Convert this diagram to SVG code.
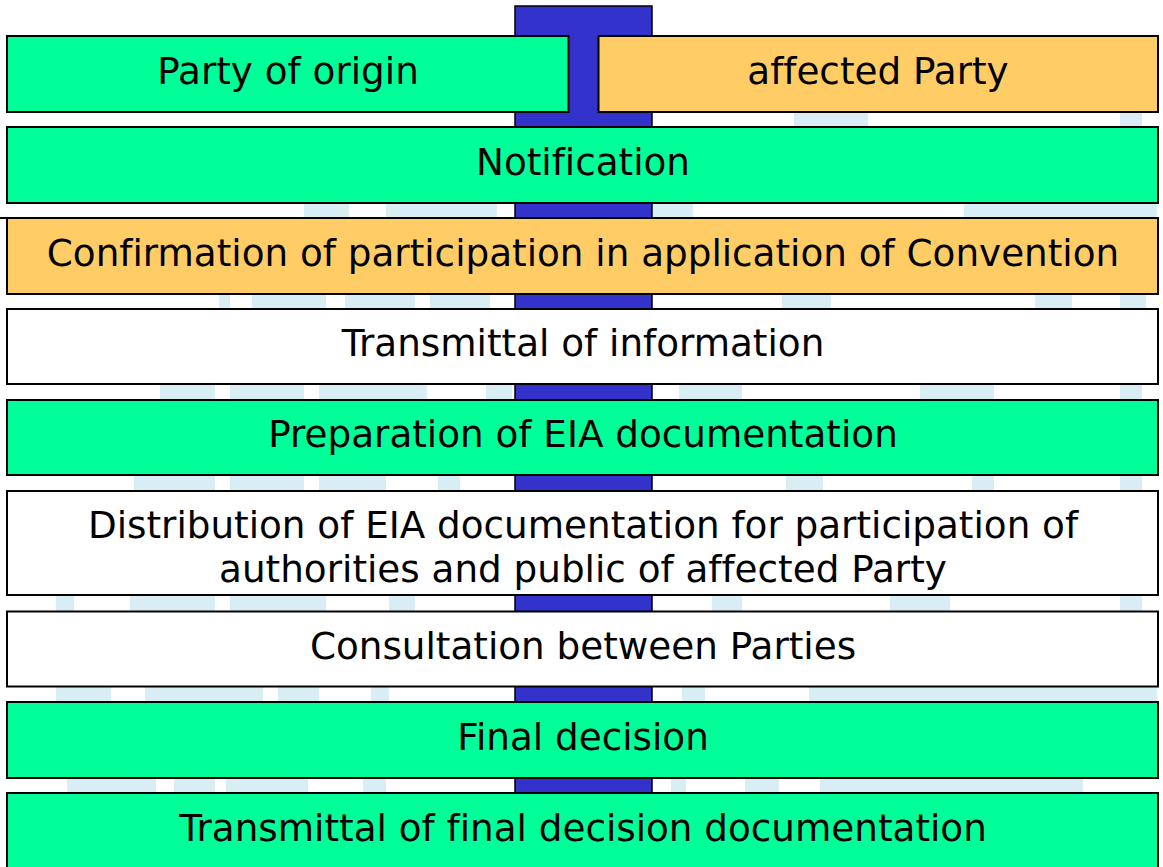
<svg xmlns="http://www.w3.org/2000/svg" width="1163" height="867" viewBox="0 0 1163 867">
<style>
.box{stroke:#000;stroke-width:2}
.g{fill:#00ff99}
.o{fill:#ffcc66}
.w{fill:#ffffff}
.wm{fill:#d9eef4}
text{font-family:"DejaVu Sans","Verdana",sans-serif;font-size:37.3px;fill:#000;text-anchor:middle;font-variant-ligatures:none;font-feature-settings:"liga" 0}
</style>
<rect x="0" y="0" width="1163" height="867" fill="#ffffff"/>
<g id="watermark">
<rect class="wm" x="794" y="112" width="74" height="15"/><rect class="wm" x="1120" y="112" width="22" height="15"/>
<rect class="wm" x="304" y="203" width="45" height="15"/><rect class="wm" x="386" y="203" width="111" height="15"/><rect class="wm" x="653" y="203" width="40" height="15"/><rect class="wm" x="964" y="203" width="193" height="15"/>
<rect class="wm" x="219" y="294" width="11" height="15"/><rect class="wm" x="252" y="294" width="74" height="15"/><rect class="wm" x="345" y="294" width="70" height="15"/><rect class="wm" x="430" y="294" width="60" height="15"/><rect class="wm" x="782" y="294" width="49" height="15"/><rect class="wm" x="1035" y="294" width="37" height="15"/><rect class="wm" x="1120" y="294" width="26" height="15"/>
<rect class="wm" x="160" y="384" width="55" height="16"/><rect class="wm" x="230" y="384" width="74" height="16"/><rect class="wm" x="319" y="384" width="108" height="16"/><rect class="wm" x="486" y="384" width="26" height="16"/><rect class="wm" x="679" y="384" width="63" height="16"/><rect class="wm" x="920" y="384" width="74" height="16"/><rect class="wm" x="1120" y="384" width="22" height="16"/>
<rect class="wm" x="134" y="475" width="81" height="16"/><rect class="wm" x="230" y="475" width="74" height="16"/><rect class="wm" x="319" y="475" width="67" height="16"/><rect class="wm" x="438" y="475" width="22" height="16"/><rect class="wm" x="786" y="475" width="37" height="16"/><rect class="wm" x="972" y="475" width="22" height="16"/><rect class="wm" x="1120" y="475" width="22" height="16"/>
<rect class="wm" x="56" y="595" width="18" height="17"/><rect class="wm" x="130" y="595" width="85" height="17"/><rect class="wm" x="230" y="595" width="96" height="17"/><rect class="wm" x="389" y="595" width="26" height="17"/><rect class="wm" x="712" y="595" width="30" height="17"/><rect class="wm" x="890" y="595" width="60" height="17"/><rect class="wm" x="1120" y="595" width="22" height="17"/>
<rect class="wm" x="56" y="687" width="55" height="15"/><rect class="wm" x="145" y="687" width="118" height="15"/><rect class="wm" x="278" y="687" width="41" height="15"/><rect class="wm" x="371" y="687" width="18" height="15"/><rect class="wm" x="682" y="687" width="23" height="15"/><rect class="wm" x="809" y="687" width="348" height="15"/>
<rect class="wm" x="67" y="778" width="89" height="15"/><rect class="wm" x="174" y="778" width="41" height="15"/><rect class="wm" x="226" y="778" width="82" height="15"/><rect class="wm" x="363" y="778" width="23" height="15"/><rect class="wm" x="671" y="778" width="15" height="15"/><rect class="wm" x="745" y="778" width="34" height="15"/><rect class="wm" x="820" y="778" width="263" height="15"/>
</g>
<g id="connectors">
<rect x="515" y="6" width="137" height="800" fill="#3333cc" stroke="#000" stroke-width="1.5"/>
<line x1="0" y1="218" x2="8" y2="218" stroke="#000" stroke-width="2"/>
</g>
<g id="party-of-origin"><rect class="box g" x="7" y="36" width="561.5" height="76"/><text x="288" y="84">Party of origin</text></g>
<g id="affected-party"><rect class="box o" x="598.5" y="36" width="559.5" height="76"/><text x="878" y="84">affected Party</text></g>
<g id="notification"><rect class="box g" x="7" y="127" width="1151" height="76"/><text x="583" y="175">Notification</text></g>
<g id="confirmation"><rect class="box o" x="7" y="218" width="1151" height="76"/><text x="583" y="266">Confirmation of participation in application of Convention</text></g>
<g id="transmittal-info"><rect class="box w" x="7" y="309" width="1151" height="75"/><text x="583" y="356">Transmittal of information</text></g>
<g id="preparation"><rect class="box g" x="7" y="400" width="1151" height="75"/><text x="583" y="447">Preparation of EIA documentation</text></g>
<g id="distribution"><rect class="box w" x="7" y="491" width="1151" height="104"/><text x="583" y="538">Distribution of EIA documentation for participation of</text><text x="583" y="582">authorities and public of affected Party</text></g>
<g id="consultation"><rect class="box w" x="7" y="611.5" width="1151" height="75"/><text x="583" y="659">Consultation between Parties</text></g>
<g id="final-decision"><rect class="box g" x="7" y="702" width="1151" height="76"/><text x="583" y="750">Final decision</text></g>
<g id="transmittal-final"><rect class="box g" x="7" y="793" width="1151" height="80"/><text x="583" y="841">Transmittal of final decision documentation</text></g>
</svg>
